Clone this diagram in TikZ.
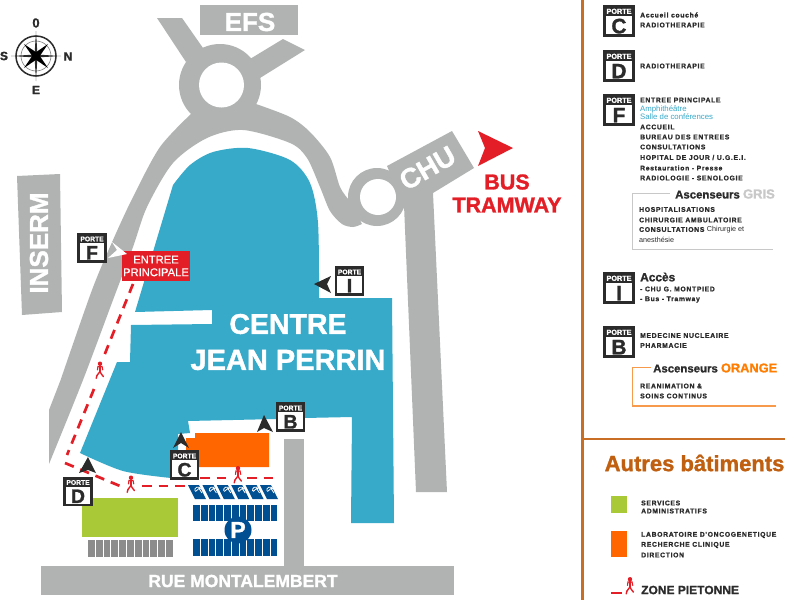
\documentclass[tikz,border=0pt]{standalone}
\usepackage{fontspec}
\setmainfont[BoldFeatures={FakeBold=1.3}]{Liberation Sans}
\newfontfamily\legf[LetterSpace=10,BoldFeatures={FakeBold=1.2}]{Liberation Sans}
\newfontfamily\semif[FakeBold=0.5]{Liberation Sans}
\definecolor{roadgray}{HTML}{B1B3B3}
\definecolor{bldblue}{HTML}{37A9C9}
\definecolor{orangeb}{HTML}{FF6600}
\definecolor{greenb}{HTML}{AAC936}
\definecolor{redc}{HTML}{E31E26}
\definecolor{parkblue}{HTML}{004F92}
\definecolor{gridgray}{HTML}{8C8C8C}
\definecolor{darkc}{HTML}{2B2B2B}
\definecolor{rulec}{HTML}{C96F25}
\definecolor{titlec}{HTML}{C05F10}
\definecolor{ascor}{HTML}{F79A4B}
\definecolor{ascgr}{HTML}{C8C8C8}
\newcommand\fsz[1]{\fontsize{#1}{#1}\selectfont}
\newcommand\portebox[5]{%
  \pgfmathsetmacro\pa{#4*0.25}\pgfmathsetmacro\pb{#4*0.72}%
  \pgfmathsetmacro\pt{#4*0.33}\pgfmathsetmacro\pw{#4*0.085}%
  \node[draw=darkc,fill=white,line width=\pw pt,minimum size=#4pt,inner sep=0pt,outer sep=0pt] (#1) at (#2,#3) {};
  \fill[darkc] (#1.north west) rectangle ([yshift=-\pt pt]#1.north east);
  \node[text=white,font=\bfseries\fsz{\pa},inner sep=0pt] (#1t) at ([yshift=-\pt pt*0.5]#1.north) {PORTE};
  \node[text=darkc,font=\bfseries\fsz{\pb},inner sep=0pt] (#1l) at ([yshift=\pt pt*0.98]#1.south) {#5};
}
\newcommand\walker[3]{%
  \begin{scope}[shift={(#1,#2)},scale=#3,line cap=round]
    \fill[redc] (0,-7.2) circle[radius=1.9pt];
    \draw[redc,line width=2.1pt] (0,-5.2) -- (0,-0.5);
    \draw[redc,line width=1.1pt] (-2.2,-1.8) -- (-1.8,-4.8) -- (1.8,-4.8) -- (2.4,-1.8);
    \draw[redc,line width=1.4pt] (0,-.5) -- (-2.6,3) (0,-.5) -- (1,1.5) -- (3,4);
    \draw[redc,line width=1.4pt] (-2.6,3) -- (-3.3,5.5);
  \end{scope}}
\tikzset{
  legtxt/.style={anchor=west,inner sep=0pt,text=darkc,font=\legf\bfseries\fsz{6.8}},
  legbl/.style={anchor=west,inner sep=0pt,text=bldblue,font=\fsz{7.8}},
  asctxt/.style={anchor=west,inner sep=0pt,text=darkc,font=\bfseries\fsz{11.4}},
  roadtxt/.style={text=white,font=\bfseries,inner sep=0pt},
  peddash/.style={redc,line width=2.7pt,dash pattern=on 9.5pt off 7pt},
  kite/.style={fill=darkc}
}
\begin{document}
\begin{tikzpicture}[x=1pt,y=-1pt]
\useasboundingbox (0,0) rectangle (785,600);
\fill[white] (0,0) rectangle (785,600);

% roads
\fill[roadgray] (17,176) -- (60,174) -- (62,312) -- (22,315) -- cycle;
\fill[roadgray] (200,5) rectangle (298,35);
\fill[roadgray] (157,18) -- (182,18) -- (203,48) -- (186,62) -- cycle;
\fill[roadgray] (283,39) -- (305,50) -- (260,78) -- (250,59) -- cycle;
\fill[roadgray] (220,85) circle[radius=41pt];
\fill[roadgray] (49,464) -- (49,410) -- (60.6,380)
  -- plot[smooth] coordinates {(60.6,380) (92,290) (113,240) (133,197) (160,147) (192,113)}
  -- (256,104)
  -- plot[smooth] coordinates {(256,104) (290,117) (310,132) (330,157) (340,187) (349,200)}
  -- (362,224)
  -- plot[smooth] coordinates {(362,224) (353,227) (342,224) (330,211) (320,187) (307,158) (290,143) (243,130) (207,138) (173,163) (147,207) (133,247) (113,300) (83,380) (49,464)}
  -- cycle;
\fill[roadgray] (377,197) circle[radius=29pt];
\fill[roadgray] (387,166) -- (452,131) -- (474,168) -- (433,193) -- (447,492) -- (416,492) -- (404,205) -- cycle;
\fill[white] (221.5,85) circle[radius=22.5pt];
\fill[white] (378,197) circle[radius=18pt];
\fill[roadgray] (41,566) rectangle (454,595);
\fill[roadgray] (284,439) rectangle (304,566);

% building
\fill[bldblue] plot[smooth] coordinates {(173,185) (190,165) (213,152) (248,148) (290,160) (310,183) (318,223) (319,298)}
  -- (392,298) -- (394,523) -- (351,523) -- (352,417) -- (304,418) -- (277,419) -- (188,421)
  -- (190,433) -- (178,434) -- (178,452) -- (171,452)
  -- plot[smooth] coordinates {(171,478) (123,471) (80,453)}
  -- (117,362) -- (130,362) -- (131,325) -- (212,324) -- (212,310) -- (135,312) -- cycle;
\fill[orangeb] (195,433) -- (269,433) -- (269,467) -- (198,467) -- (198,450) -- (186,450) -- (186,438) -- (195,438) -- cycle;
\fill[greenb] (82,498) rectangle (178,537);
\foreach \i in {0,...,10} \fill[gridgray] ({88+7.8*\i},540) rectangle ({88+7.8*\i+6.8},557);

% parking
\foreach \i in {0,...,5} {
  \fill[parkblue] ({188+14.4*\i},485) -- ({199+14.4*\i},485) -- ({206+14.4*\i},499) -- ({195+14.4*\i},499) -- cycle;
  \draw[white,line width=.8pt] ({195+14.4*\i},491) arc[start angle=200,end angle=20,radius=3pt] ({195.5+14.4*\i},491.5) -- ({199+14.4*\i},488.5) -- ({202+14.4*\i},493);
}
\foreach \i in {0,...,10} {
  \fill[parkblue] ({193+7.75*\i},505) rectangle ({193+7.75*\i+6.8},521);
  \fill[parkblue] ({193+7.75*\i},539) rectangle ({193+7.75*\i+6.8},556);
}
\node[circle,fill=parkblue,minimum size=27pt,inner sep=0pt,text=white,font=\bfseries\fsz{23}] (parkp) at (238,530) {P};

% labels on the map
\node[roadtxt,font=\bfseries\fsz{26}] (efs) at (250,22) {EFS};
\node[roadtxt,font=\bfseries\fsz{26},rotate=90] (inserm) at (39,243) {INSERM};
\node[roadtxt,font=\bfseries\fsz{27.5},rotate=30] (chu) at (427.5,168) {CHU};
\node[roadtxt,font=\bfseries\fsz{17.5}] (rue) at (243,581) {RUE MONTALEMBERT};
\node[roadtxt,font=\bfseries\fsz{28.5}] (cjp1) at (288,324) {CENTRE};
\node[roadtxt,font=\bfseries\fsz{29}] (cjp2) at (288,360) {JEAN PERRIN};
\node[text=redc,font=\bfseries\fsz{21.5},inner sep=0pt] (bus) at (507,182) {BUS};
\node[text=redc,font=\bfseries\fsz{21.5},inner sep=0pt] (tram) at (507,205) {TRAMWAY};
\fill[redc] (478,131) -- (513,148) -- (478,166) -- (485,148) -- cycle;

% pedestrian paths
\coordinate (p1) at (133,284); \coordinate (p2) at (104,356);
\coordinate (p3) at (94,389); \coordinate (p4) at (67,455);
\coordinate (p5) at (65,463); \coordinate (p6) at (120,486);
\coordinate (p7) at (142,486); \coordinate (p8) at (187,486);
\coordinate (p9) at (200,478); \coordinate (p10) at (227,478);
\coordinate (p11) at (247,478); \coordinate (p12) at (277,478);
\draw[peddash] (p1) -- (p2);
\draw[peddash] (p3) -- (p4);
\draw[peddash] (p5) -- (p6);
\draw[peddash] (p7) -- (p8);
\draw[peddash] (p9) -- (p10);
\draw[peddash] (p11) -- (p12);
\walker{100}{372}{1.15}
\walker{131}{486}{1.15}
\walker{238}{476.5}{1.15}

% entrance
\node[fill=redc,text=white,font=\semif\fsz{11.2},align=center,inner sep=0pt,minimum width=68pt,minimum height=30pt] (entree) at (156,266) {ENTREE\\[1.5pt]PRINCIPALE};
\fill[white] (127,254) -- (112,242) -- (117,250) -- (108,258) -- cycle;

% arrowheads
\fill[kite] (314,284) -- (331,276) -- (327,284) -- (331,293) -- cycle;
\fill[kite] (264,415) -- (257,432) -- (264,428) -- (273,432) -- cycle;
\fill[kite] (181,432) -- (173,448) -- (181,443) -- (189,448) -- cycle;
\fill[kite] (88,457) -- (79,473) -- (88,470) -- (96,473) -- cycle;

% door boxes
\portebox{pf}{92}{248}{27}{F}
\portebox{pi}{349.5}{281}{27}{I}
\portebox{pb}{290.5}{417}{27}{B}
\portebox{pc}{184.5}{465}{27}{C}
\portebox{pd}{78}{491.5}{27}{D}

% compass
\begin{scope}[shift={(36,56)}]
  \draw[darkc,line width=1.5pt] (0,0) circle[radius=20pt];
  \draw[gray,line width=.6pt] (0,0) circle[radius=15pt];
  \foreach \a in {0,90,180,270} \fill[darkc,rotate=\a] (25,0) -- (0,1.5) -- (-0,-1.5) -- cycle;
  \foreach \a in {45,135,225,315} \fill[black,rotate=\a] (17,0) -- (0,3.2) -- (0,-3.2) -- cycle;
\end{scope}
\node[text=darkc,font=\bfseries\fsz{13},inner sep=0pt] (cn) at (36,23) {0};
\node[text=darkc,font=\bfseries\fsz{12},inner sep=0pt] (cs) at (4,56) {S};
\node[text=darkc,font=\bfseries\fsz{12},inner sep=0pt] (ce) at (68,56.5) {N};
\node[text=darkc,font=\bfseries\fsz{12},inner sep=0pt] (cw) at (36,90) {E};

% legend rules
\draw[rulec,line width=2.4pt] (582.5,0) -- (582.5,600);
\draw[rulec,line width=2pt] (582,439) -- (785,439);

% legend entries
\portebox{lc}{619}{21}{29}{C}
\portebox{ld}{619}{66}{29}{D}
\portebox{lf}{619}{110}{29}{F}
\portebox{li}{619}{288}{29}{I}
\portebox{lb}{619}{342}{29}{B}

\node[legtxt] (t1) at (640,15) {Accueil couché};
\node[legtxt] (t2) at (640,25) {RADIOTHERAPIE};
\node[legtxt] (t3) at (640,66) {RADIOTHERAPIE};
\node[legtxt] (t4) at (640,100) {ENTREE PRINCIPALE};
\node[legbl] (t5) at (640,109) {Amphithéâtre};
\node[legbl] (t6) at (640,117) {Salle de conférences};
\node[legtxt] (t7) at (640,127) {ACCUEIL};
\node[legtxt] (t8) at (640,137) {BUREAU DES ENTREES};
\node[legtxt] (t9) at (640,147) {CONSULTATIONS};
\node[legtxt] (t10) at (640,157.5) {HOPITAL DE JOUR / U.G.E.I.};
\node[legtxt] (t11) at (640,168) {Restauration - Presse};
\node[legtxt] (t12) at (640,178) {RADIOLOGIE - SENOLOGIE};

\draw[ascgr,line width=1pt] (670,193.5) -- (632,193.5) -- (632,249) -- (773,249);
\node[asctxt] (a1) at (675,194) {Ascenseurs \textcolor{ascgr}{\fsz{13}GRIS}};
\node[legtxt] (t13) at (639,209.5) {HOSPITALISATIONS};
\node[legtxt] (t14) at (639,220) {CHIRURGIE AMBULATOIRE};
\node[legtxt] (t15) at (639,230) {CONSULTATIONS {\fontspec{Liberation Sans}\mdseries\fsz{7.2}Chirurgie et}};
\node[anchor=west,inner sep=0pt,text=darkc,font=\fsz{7.2}] (t16) at (639,239.5) {anesthésie};

\node[anchor=west,inner sep=0pt,text=darkc,font=\bfseries\fsz{11.9}] (t17) at (640,277) {Accès};
\node[legtxt] (t18) at (640,289) {- CHU G. MONTPIED};
\node[legtxt] (t19) at (640,299.5) {- Bus - Tramway};
\node[legtxt] (t20) at (640,335.5) {MEDECINE NUCLEAIRE};
\node[legtxt] (t21) at (640,345.5) {PHARMACIE};

\draw[ascor,line width=1.2pt] (651,367.5) -- (632.5,367.5) -- (632.5,406) -- (776,406);
\node[asctxt] (a2) at (653,368) {Ascenseurs \textcolor{orangeb!85!yellow}{\fsz{12.8}ORANGE}};
\node[legtxt] (t22) at (640,386) {REANIMATION \&};
\node[legtxt] (t23) at (640,396) {SOINS CONTINUS};

\node[anchor=west,inner sep=0pt,text=titlec,font=\bfseries\fsz{22}] (t24) at (604.5,463) {Autres bâtiments};
\node[fill=greenb,minimum width=16pt,minimum height=17pt,inner sep=0pt] (s1) at (619,504.5) {};
\node[legtxt] (t25) at (641,503) {SERVICES};
\node[legtxt] (t26) at (641,511) {ADMINISTRATIFS};
\node[fill=orangeb,minimum width=16pt,minimum height=26pt,inner sep=0pt] (s2) at (619,544) {};
\node[legtxt] (t27) at (641,535) {LABORATOIRE D'ONCOGENETIQUE};
\node[legtxt] (t28) at (641,545) {RECHERCHE CLINIQUE};
\node[legtxt] (t29) at (641,555) {DIRECTION};
\coordinate (z1) at (611,593); \coordinate (z2) at (622,593);
\draw[redc,line width=1.6pt] (z1) -- (z2);
\walker{630}{587.5}{1.15}
\node[anchor=west,inner sep=0pt,text=darkc,font=\bfseries\fsz{12}] (t30) at (641,590) {ZONE PIETONNE};
\end{tikzpicture}
\end{document}
